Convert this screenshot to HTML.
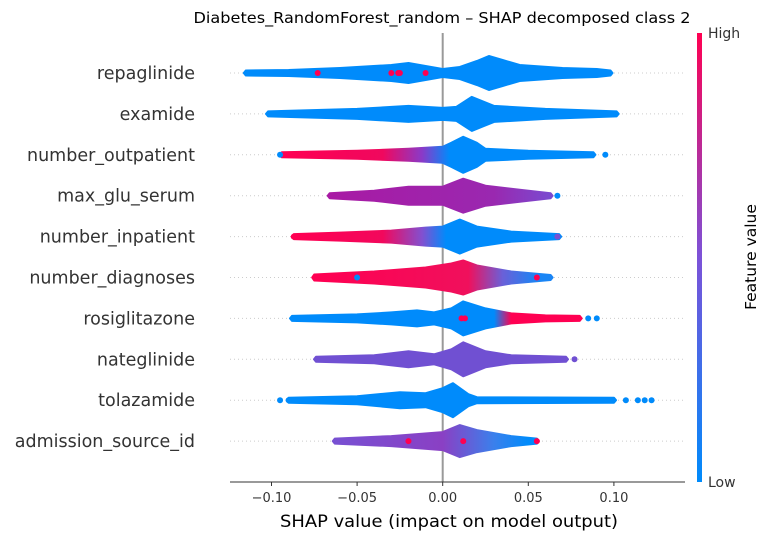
<!DOCTYPE html>
<html><head><meta charset="utf-8"><style>
body{margin:0;background:#fff;font-family:"Liberation Sans","DejaVu Sans",sans-serif;}
svg text{font-family:"DejaVu Sans","Liberation Sans",sans-serif;}
</style></head><body>
<svg id="chart" width="770" height="540" viewBox="0 0 770 540" xmlns="http://www.w3.org/2000/svg">
<defs>
<linearGradient id="cbar" x1="0" y1="1" x2="0" y2="0">
<stop offset="0" stop-color="#008bfb"/><stop offset="0.5" stop-color="#7c52d8"/><stop offset="1" stop-color="#ff0052"/>
</linearGradient>
</defs>
<text x="442" y="23" font-size="15.5" text-anchor="middle" fill="#000" textLength="497" lengthAdjust="spacingAndGlyphs">Diabetes_RandomForest_random – SHAP decomposed class 2</text>
<g id="grid"></g>
<line x1="442.7" y1="33" x2="442.7" y2="482" stroke="#999" stroke-width="2"/>
<g id="rows"></g>
<g id="xaxis"></g>
<text x="449" y="527" font-size="17" text-anchor="middle" fill="#000" textLength="338" lengthAdjust="spacingAndGlyphs">SHAP value (impact on model output)</text>
<rect x="697" y="33" width="5" height="449" fill="url(#cbar)"/>
<text x="708" y="38" font-size="14" fill="#333">High</text>
<text x="708" y="487" font-size="14" fill="#333">Low</text>
<text x="0" y="0" font-size="15.5" text-anchor="middle" fill="#000" transform="translate(756,257) rotate(-90)">Feature value</text>
</svg>
<script>
const features = ["repaglinide","examide","number_outpatient","max_glu_serum","number_inpatient","number_diagnoses","rosiglitazone","nateglinide","tolazamide","admission_source_id"];
const profileX = [
 [-0.115,-0.09,-0.06,-0.03,-0.02,-0.01,0,0.01,0.02,0.027,0.035,0.045,0.07,0.09,0.098],
 [-0.102,-0.05,-0.02,0,0.008,0.017,0.03,0.06,0.1016],
 [-0.094,-0.05,-0.02,0,0.005,0.012,0.02,0.025,0.05,0.088],
 [-0.066,-0.04,-0.02,0,0.012,0.025,0.045,0.063],
 [-0.087,-0.06,-0.03,-0.01,0,0.01,0.02,0.04,0.068],
 [-0.075,-0.04,-0.01,0.005,0.012,0.02,0.04,0.063],
 [-0.088,-0.05,-0.03,-0.015,-0.005,0.005,0.012,0.025,0.04,0.06,0.08],
 [-0.074,-0.04,-0.02,-0.005,0.005,0.012,0.025,0.04,0.072],
 [-0.09,-0.05,-0.025,-0.01,0,0.006,0.015,0.02,0.1],
 [-0.063,-0.03,0,0.01,0.02,0.04,0.055]
];
const profileDensity = [
 [2.5,3,5,8,10,7,4,6,12,17,13,8,5,4,2.5],
 [2.5,5,8,6,7,17,8,5,2.5],
 [2.5,4,6,8,12,18,12,6,4,2.5],
 [2.5,5,9,9,17,10,6,2.5],
 [2.5,4,6,9,10,17,10,5,2.5],
 [3,6,10,14,17,12,6,2.5],
 [2.5,4,6,8,6,10,17,10,5,3,2.5],
 [2.5,4,8,5,10,17,8,4,2.5],
 [2.5,4,8,7,12,17,6,3,2.5],
 [2.5,5,9,16,11,5,2.5]
];
const colorStopX = [
 [0],[0],
 [-0.095,-0.035,-0.012,0.004],
 [-0.066,0.03,0.063],
 [-0.087,-0.035,-0.012,0.002],
 [-0.075,0.015,0.035,0.055],
 [-0.088,0.03,0.04,0.08],
 [0],[0],
 [-0.063,0.0,0.03,0.05]
];
const colorStopC = [
 ["#008bfb"],["#008bfb"],
 ["#ff0052","#f0085e","#8a3ac8","#008bfb"],
 ["#a81aa4","#9a28b0","#7a4ad0"],
 ["#ff0052","#f2085c","#8250d0","#008bfb"],
 ["#ff0052","#f0105c","#6a60d8","#1a85f5"],
 ["#008bfb","#008bfb","#ff0052","#ff0052"],
 ["#7050d2"],["#008bfb"],
 ["#7850d2","#8a40c4","#3a80ec","#008bfb"]
];
const dotRow = [0,0,0,0,0,2,2,3,4,4,5,5,6,6,6,6,7,8,8,8,8,8,8,9,9,9];
const dotX = [-0.073,-0.03,-0.025,-0.026,-0.01,-0.095,0.095,0.067,-0.087,0.067,0.055,-0.05,0.09,0.085,0.011,0.013,0.077,-0.095,-0.09,0.107,0.114,0.118,0.122,0.055,-0.02,0.012];
const dotC = ["#ff0052","#ff0052","#ff0052","#ff0052","#ff0052","#008bfb","#008bfb","#008bfb","#ff0052","#7850d2","#ff0052","#008bfb","#008bfb","#008bfb","#ff0052","#ff0052","#7050d2","#008bfb","#008bfb","#008bfb","#008bfb","#008bfb","#008bfb","#ff0052","#ff0052","#ff0052"];
const tickVals = [-0.10,-0.05,0.00,0.05,0.10];
const tickLabels = ["\u22120.10","\u22120.05","0.00","0.05","0.10"];

const NS="http://www.w3.org/2000/svg";
const xS = v => 442.7 + v*1712;
const yS = i => 73 + i*40.9;
const svg=document.getElementById('chart');
const defs=svg.querySelector('defs');
const grid=document.getElementById('grid'), rows=document.getElementById('rows'), xa=document.getElementById('xaxis');
function mk(t,a,p){const e=document.createElementNS(NS,t);for(const k in a)e.setAttribute(k,a[k]);p.appendChild(e);return e;}

features.forEach((f,i)=>{
  const y=yS(i);
  const gl=mk('line',{x1:230,x2:685,y1:y,y2:y,stroke:'#ccc','stroke-dasharray':'1,3'},grid);
  
  
  const lb=mk('text',{x:195,y:y+6,'font-size':17.5,'text-anchor':'end',fill:'#333'},svg);
  lb.textContent=f;
  
  
  const gid='g'+i;
  const lg=mk('linearGradient',{id:gid,gradientUnits:'userSpaceOnUse',x1:xS(-0.13),x2:xS(0.13),y1:0,y2:0},defs);
  colorStopX[i].forEach((s,k)=>mk('stop',{offset:((s+0.13)/0.26).toFixed(4),'stop-color':colorStopC[i][k]},lg));
  const xs=profileX[i], hs=profileDensity[i];
  let top=[],bot=[];
  xs.forEach((v,k)=>{top.push(xS(v).toFixed(1)+','+(y-hs[k]).toFixed(1));bot.unshift(xS(v).toFixed(1)+','+(y+hs[k]).toFixed(1));});
  const n=xs.length;
  const d='M'+xS(xs[0]-0.0012).toFixed(1)+','+y+' L'+top.join(' L')+' L'+xS(xs[n-1]+0.0012).toFixed(1)+','+y+' L'+bot.join(' L')+' Z';
  const p=mk('path',{d:d,fill:'url(#'+gid+')',stroke:'url(#'+gid+')','stroke-width':2,'stroke-linejoin':'round'},rows);
  
  
});
dotX.forEach((v,k)=>{
  const c=mk('circle',{cx:xS(v),cy:yS(dotRow[k]),r:3,fill:dotC[k]},rows);
  
  
});
const ax=mk('line',{x1:230,x2:685,y1:482,y2:482,stroke:'#333','stroke-width':1},xa);


tickVals.forEach((v,k)=>{
  const t=mk('line',{x1:xS(v),x2:xS(v),y1:482,y2:486,stroke:'#333'},xa);
  
  
  const tl=mk('text',{x:xS(v),y:502,'font-size':13,'text-anchor':'middle',fill:'#333'},xa);
  tl.textContent=tickLabels[k];
  
  
});
</script>
</body></html>
